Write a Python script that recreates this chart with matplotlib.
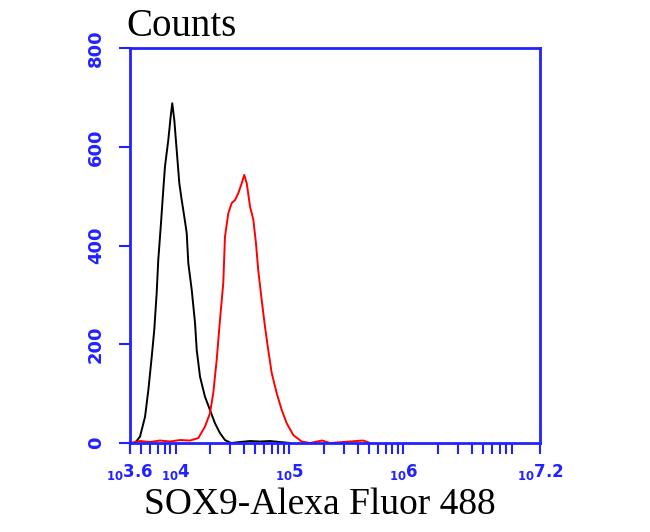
"""
Flow cytometry histogram: SOX9-Alexa Fluor 488 (isotype control vs stained).
Output: out.png
"""

import numpy as np
import matplotlib.pyplot as plt
from matplotlib.ticker import FixedLocator, NullFormatter

# black = control, red = SOX9 stained; x given as log10 of fluorescence
black_log = [3.600, 3.644, 3.688, 3.732, 3.761, 3.791, 3.813, 3.834, 3.848, 3.872,
             3.892, 3.907, 3.936, 3.957, 3.971, 3.989, 4.010, 4.033, 4.054, 4.077,
             4.098, 4.112, 4.142, 4.171, 4.186, 4.215, 4.258, 4.302, 4.346, 4.390,
             4.434, 4.487, 4.566, 4.654, 4.741, 4.829, 4.917, 5.005]
black_counts = [0, 0, 13, 53, 107, 175, 229, 303, 370, 445,
                512, 560, 613, 661, 688, 654, 593, 526, 492, 458,
                425, 364, 310, 243, 188, 134, 94, 67, 40, 20,
                6, 0, 2, 4, 3, 4, 2, 0]

red_log = [3.600, 3.688, 3.776, 3.863, 3.951, 4.039, 4.127, 4.200, 4.258, 4.302,
           4.331, 4.361, 4.390, 4.419, 4.434, 4.463, 4.493, 4.522, 4.551, 4.581,
           4.603, 4.625, 4.654, 4.683, 4.706, 4.726, 4.756, 4.785, 4.814, 4.844,
           4.888, 4.932, 4.976, 5.034, 5.107, 5.180, 5.286, 5.356, 5.646, 5.707]
red_counts = [0, 4, 2, 5, 3, 6, 5, 10, 33, 60,
              101, 168, 249, 324, 418, 465, 486, 492, 506, 526,
              543, 526, 479, 452, 405, 350, 290, 236, 188, 142,
              101, 67, 40, 16, 3, 0, 5, 0, 5, 0]

x_major_exp = [3.6, 4, 5, 6, 7.2]
x_major_text = ['3.6', '4', '5', '6', '7.2']
y_ticks = [0, 200, 400, 600, 800]

BLUE = '#2222ff'

fig = plt.figure(figsize=(6.5, 5.32), dpi=100)
ax = fig.add_axes([130 / 650, 89 / 532, 410 / 650, 395 / 532])

ax.plot(10 ** np.array(black_log), black_counts, color='black', lw=1.4)
ax.plot(10 ** np.array(red_log), red_counts, color='red', lw=1.4)

ax.set_xscale('log')
ax.set_xlim(10 ** 3.6, 10 ** 7.2)
ax.set_ylim(0, 800)

for s in ax.spines.values():
    s.set_color(BLUE)
    s.set_linewidth(2)

# x ticks: labelled positions plus 2..9 per decade
ax.xaxis.set_major_locator(FixedLocator([10 ** e for e in x_major_exp]))
ax.set_xticklabels([r'$_{\mathbf{10}}$' + t for t in x_major_text])
minor = [m * 10 ** d for d in range(3, 7) for m in range(2, 10)
         if 10 ** 3.6 < m * 10 ** d < 10 ** 7.2]
ax.xaxis.set_minor_locator(FixedLocator(minor))
ax.xaxis.set_minor_formatter(NullFormatter())
ax.tick_params(axis='x', which='both', direction='out', length=8, width=1.5,
               colors=BLUE, labelsize=12, pad=6)
for lab in ax.get_xticklabels():
    lab.set_fontweight('bold')

ax.set_yticks(y_ticks)
ax.tick_params(axis='y', direction='out', length=8, width=1.5, colors=BLUE,
               labelsize=13, pad=10)
for lab in ax.get_yticklabels():
    lab.set_rotation(90)
    lab.set_va('center')
    lab.set_fontweight('bold')

fig.text(126 / 650, 1 - 27 / 532, 'Counts', family='Liberation Serif',
         fontsize=28, va='center', ha='left')
fig.text(320 / 650, 1 - 505 / 532, 'SOX9-Alexa Fluor 488', family='Liberation Serif',
         fontsize=27, va='center', ha='center')

fig.savefig('out.png', dpi=100)
